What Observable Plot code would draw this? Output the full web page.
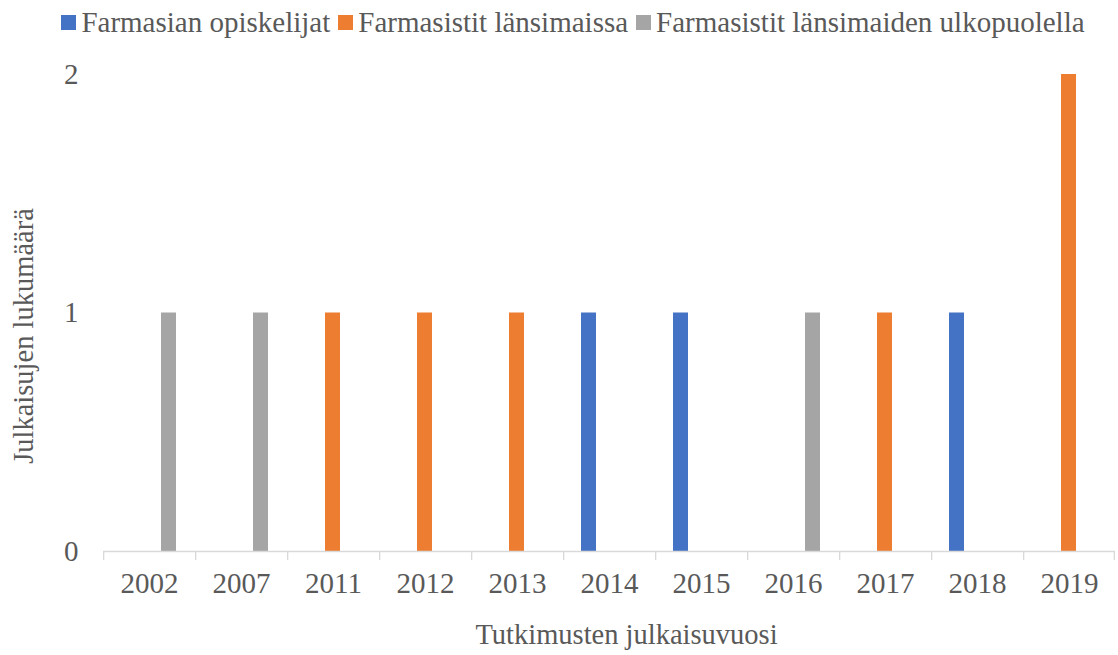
<!DOCTYPE html>
<html>
<head>
<meta charset="utf-8">
<script src="https://cdn.jsdelivr.net/npm/d3@7"></script>
<script src="https://cdn.jsdelivr.net/npm/@observablehq/plot@0.6"></script>
<style>
  html, body { margin: 0; padding: 0; background: #fff; }
  #wrap { position: relative; width: 1118px; height: 655px; font-family: "Liberation Serif", "Times New Roman", serif; color: #595959; }
  #legend { position: absolute; top: 5px; left: 0; width: 1118px; box-sizing: border-box; padding-left: 28px; display: flex; justify-content: center; gap: 8px; font-size: 29px; line-height: 34px; }
  .item { display: flex; align-items: center; gap: 5px; white-space: nowrap; }
  .sw { width: 15px; height: 15px; display: inline-block; margin-top: 1px; }
  #chart { position: absolute; top: 0; left: 0; }
</style>
</head>
<body>
<div id="wrap">
  <div id="chart"></div>
  <div id="legend"></div>
</div>
<script>
const years = ["2002","2007","2011","2012","2013","2014","2015","2016","2017","2018","2019"];
const seriesNames = ["Farmasian opiskelijat", "Farmasistit länsimaissa", "Farmasistit länsimaiden ulkopuolella"];
const opiskelijat = [0,0,0,0,0,1,1,0,0,1,0];
const lansimaissa = [0,0,1,1,1,0,0,0,1,0,2];
const ulkopuolella = [1,1,0,0,0,0,0,1,0,0,0];
const colors = ["#4472C4", "#ED7D31", "#A5A5A5"];
const yTicks = [0, 1, 2];
const xTitle = "Tutkimusten julkaisuvuosi";
const yTitle = "Julkaisujen lukumäärä";

const seriesValues = [opiskelijat, lansimaissa, ulkopuolella];
const data = [];
years.forEach((y, i) => {
  seriesNames.forEach((s, j) => {
    data.push({year: y, series: s, value: seriesValues[j][i]});
  });
});

// legend
const legend = document.getElementById("legend");
seriesNames.forEach((s, j) => {
  const it = document.createElement("div");
  it.className = "item";
  const sw = document.createElement("span");
  sw.className = "sw";
  sw.style.background = colors[j];
  const t = document.createElement("span");
  t.textContent = s;
  it.appendChild(sw); it.appendChild(t);
  legend.appendChild(it);
});

const W = 1118, H = 655, mL = 102, mR = 2, mT = 74, mB = 104;
const facetW = (W - mL - mR) / years.length;
const tickLen = 9 / ((H - mT - mB) / 2);
const font = "Liberation Serif, Times New Roman, serif";
const midYear = years[Math.floor(years.length / 2)];

const chart = Plot.plot({
  width: W,
  height: H,
  marginLeft: mL,
  marginRight: mR,
  marginTop: mT,
  marginBottom: mB,
  style: {fontFamily: font, color: "#595959", background: "transparent"},
  fx: {domain: years, padding: 0},
  x: {domain: seriesNames, paddingInner: 0.238, paddingOuter: 0.814, axis: null},
  y: {domain: [0, 2]},
  color: {domain: seriesNames, range: colors},
  marks: [
    Plot.barY(data.filter(d => d.value > 0), {fx: "year", x: "series", y: "value", fill: "series"}),
    Plot.ruleY([0], {stroke: "#d9d9d9", strokeWidth: 1.5}),
    Plot.rect(years, {fx: d => d, y1: 0, y2: -tickLen, fill: "#d9d9d9", insetRight: facetW - 1.5}),
    Plot.rect(years.slice(-1), {fx: d => d, y1: 0, y2: -tickLen, fill: "#d9d9d9", insetLeft: facetW - 1.5}),
    Plot.axisY({ticks: yTicks, tickSize: 0, tickPadding: 25, fontSize: 29, tickFormat: d3.format("d"), label: null, fill: "#595959"}),
    Plot.text([yTitle], {fx: () => years[0], text: d => d, frameAnchor: "left", dx: -71, dy: 23, rotate: -90, textAnchor: "middle", lineAnchor: "bottom", fontSize: 28.5, fill: "#595959"}),
    Plot.axisFx({anchor: "bottom", tickSize: 0, tickPadding: 21, fontSize: 29, label: null, fill: "#595959"}),
    Plot.text([xTitle], {fx: () => midYear, text: d => d, frameAnchor: "bottom", dx: 17, dy: 92, textAnchor: "middle", lineAnchor: "bottom", fontSize: 28.5, fill: "#595959"})
  ]
});
document.getElementById("chart").appendChild(chart);
</script>
</body>
</html>
